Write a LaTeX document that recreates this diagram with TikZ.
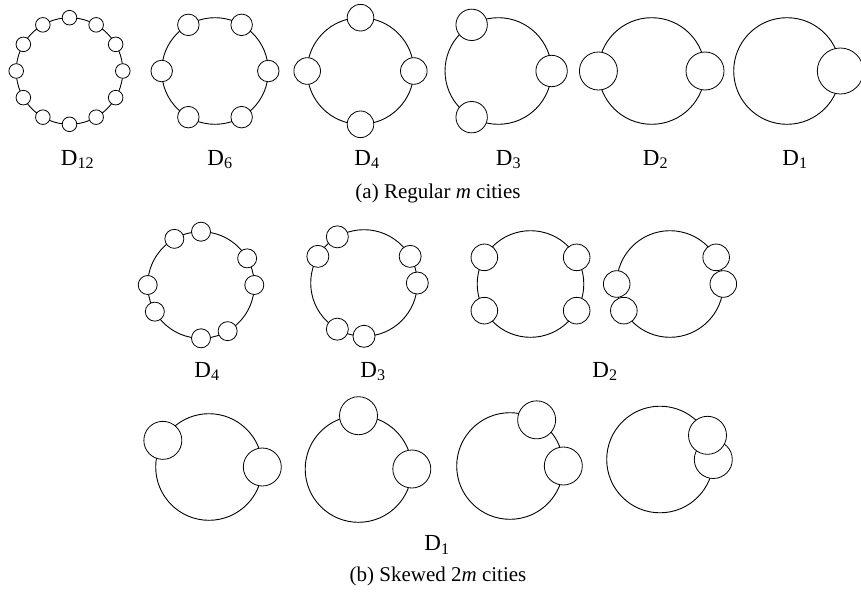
\documentclass[tikz,border=0pt]{standalone}
\usepackage{fontspec}
\setmainfont{Liberation Serif}
\tikzset{
  ring/.style={circle, draw, line width=0.9pt, inner sep=0pt, outer sep=0pt, minimum size=106.6pt},
  city/.style={circle, draw, fill=white, line width=0.8pt, inner sep=0pt},
  tag/.style={font=\fontsize{23}{27}\selectfont, anchor=base, inner sep=0pt},
  caption/.style={font=\fontsize{21}{25}\selectfont, anchor=base, inner sep=0pt},
}
\begin{document}
\begin{tikzpicture}[x=1pt, y=1pt]
  \useasboundingbox (0,0) rectangle (861,-594);
  % (a) Regular rings
  \node[ring] (a12) at (69.5,-71) {};
  \node[ring] (a6) at (215,-71) {};
  \node[ring] (a4) at (360.5,-71) {};
  \node[ring] (a3) at (498.3,-71) {};
  \node[ring] (a2) at (651.7,-71) {};
  \node[ring] (a1) at (787,-71) {};
  % Cities spread evenly
  \foreach \ang in {0,30,...,330} \node[city, minimum size=14.6pt] (a12-\ang) at (a12.\ang) {};
  \foreach \ang in {0,60,...,300} \node[city, minimum size=21.5pt] (a6-\ang) at (a6.\ang) {};
  \foreach \ang in {0,90,180,270} \node[city, minimum size=26.6pt] (a4-\ang) at (a4.\ang) {};
  \foreach \ang in {0,120,240} \node[city, minimum size=31.4pt] (a3-\ang) at (a3.\ang) {};
  \foreach \ang in {0,180} \node[city, minimum size=38pt] (a2-\ang) at (a2.\ang) {};
  \node[city, minimum size=46pt] (a1-0) at (a1.0) {};
  % Labels
  \node[tag] (la12) at (77.5,-165) {D\textsubscript{12}};
  \node[tag] (la6) at (220,-165) {D\textsubscript{6}};
  \node[tag] (la4) at (367,-165) {D\textsubscript{4}};
  \node[tag] (la3) at (508.5,-165) {D\textsubscript{3}};
  \node[tag] (la2) at (655.5,-165) {D\textsubscript{2}};
  \node[tag] (la1) at (795,-165) {D\textsubscript{1}};
  \node[caption] (capa) at (438,-198) {(a) Regular \emph{m} cities};

  % (b) Skewed rings, two cities per slot
  \node[ring] (b4) at (201,-285) {};
  \node[ring] (b3) at (364,-283) {};
  \node[ring] (b2a) at (530.5,-284) {};
  \node[ring] (b2b) at (670,-284) {};
  \foreach \ang in {0,30,90,120,180,210,270,300} \node[city, minimum size=19pt] (b4-\ang) at (b4.\ang) {};
  \foreach \ang in {0,30,120,150,240,270} \node[city, minimum size=22pt] (b3-\ang) at (b3.\ang) {};
  \foreach \ang in {30,150,210,330} \node[city, minimum size=26.6pt] (b2a-\ang) at (b2a.\ang) {};
  \foreach \ang in {0,30,180,210} \node[city, minimum size=26.6pt] (b2b-\ang) at (b2b.\ang) {};
  \node[tag] (lb4) at (207,-377) {D\textsubscript{4}};
  \node[tag] (lb3) at (373,-377) {D\textsubscript{3}};
  \node[tag] (lb2) at (605,-377) {D\textsubscript{2}};

  % D1 with growing skew
  \node[ring] (b1a) at (209,-467) {};
  \node[ring] (b1b) at (358.5,-469) {};
  \node[ring] (b1c) at (510,-466) {};
  \node[ring] (b1d) at (660,-459.5) {};
  \node[city, minimum size=38pt] (b1a-150) at (b1a.150) {};
  \node[city, minimum size=38pt] (b1a-0) at (b1a.0) {};
  \node[city, minimum size=38pt] (b1b-90) at (b1b.90) {};
  \node[city, minimum size=38pt] (b1b-0) at (b1b.0) {};
  \node[city, minimum size=38pt] (b1c-60) at (b1c.60) {};
  \node[city, minimum size=38pt] (b1c-0) at (b1c.0) {};
  \node[city, minimum size=38pt] (b1d-0) at (b1d.0) {};
  \node[city, minimum size=38pt] (b1d-27) at (b1d.27) {};
  \node[tag] (lb1) at (437,-550.5) {D\textsubscript{1}};
  \node[caption] (capb) at (438,-581.7) {(b) Skewed 2\emph{m} cities};
\end{tikzpicture}
\end{document}
